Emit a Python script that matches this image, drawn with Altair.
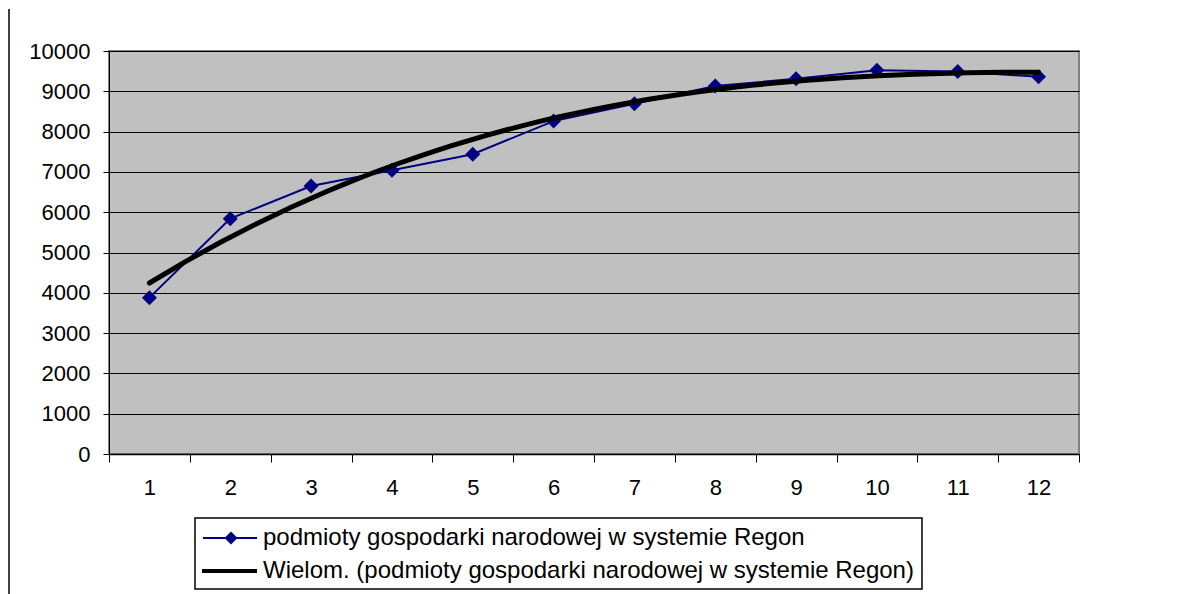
import altair as alt
import pandas as pd

# ---- data ----
months = list(range(1, 13))
values = [3880, 5840, 6650, 7040, 7440, 8260, 8690, 9130, 9310, 9520, 9490, 9360]
series_name = "podmioty gospodarki narodowej w systemie Regon"
trend_name = "Wielom. (podmioty gospodarki narodowej w systemie Regon)"
y_ticks = list(range(0, 10001, 1000))
x_boundaries = [k + 0.5 for k in range(0, 13)]

df = pd.DataFrame({"x": months, "y": values, "series": series_name})

FONT = "Liberation Sans"
W, H = 970, 403
NAVY = "#000080"

x_scale = alt.Scale(domain=[0.5, 12.5], nice=False, zero=False)
y_scale = alt.Scale(domain=[0, 10000], nice=False)

x_axis = alt.Axis(
    values=x_boundaries, title=None, grid=False, tickSize=8, tickColor="black",
    tickWidth=1, domainColor="black", domainWidth=1.5,
    labelExpr="datum.value > 12 ? '' : format(datum.value + 0.5, 'd')",
    labelOffset=W / 24, labelFlush=False, labelOverlap=False,
    labelFont=FONT, labelFontSize=22, labelColor="black", labelPadding=15,
)
y_axis = alt.Axis(
    values=y_ticks, title=None, grid=True, gridColor="black", gridWidth=1,
    gridOpacity=1, tickSize=6, tickColor="black", domainColor="black",
    labelFont=FONT, labelFontSize=22, labelColor="black", labelPadding=13,
    format="d",
)

base = alt.Chart(df)

data_line = base.mark_line(strokeWidth=2, color=NAVY).encode(
    x=alt.X("x:Q", scale=x_scale, axis=x_axis),
    y=alt.Y("y:Q", scale=y_scale, axis=y_axis),
)

points = base.mark_point(
    shape="diamond", filled=True, size=225, color=NAVY, opacity=1
).encode(x="x:Q", y="y:Q")

trend = (
    base.transform_regression("x", "y", method="poly", order=3, extent=[1, 12])
    .mark_line(strokeWidth=5, strokeCap="round", color="black")
    .encode(x="x:Q", y="y:Q")
)

one = alt.Data(values=[{"k": 1}])

border = alt.Chart(one).mark_rule(color="black", strokeWidth=1.5).encode(
    x=alt.value(-100), y=alt.value(-42), y2=alt.value(546)
)

# ---- legend box ----
leg_box = alt.Chart(one).mark_rect(
    fill="white", stroke="black", strokeWidth=1.5
).encode(x=alt.value(86), x2=alt.value(813), y=alt.value(467), y2=alt.value(538))
leg_line1 = alt.Chart(one).mark_rule(color=NAVY, strokeWidth=2).encode(
    x=alt.value(94), x2=alt.value(148), y=alt.value(487)
)
leg_pt1 = alt.Chart(one).mark_point(
    shape="diamond", filled=True, size=169, color=NAVY, opacity=1
).encode(x=alt.value(122), y=alt.value(487))
leg_line2 = alt.Chart(one).mark_rule(color="black", strokeWidth=4).encode(
    x=alt.value(93), x2=alt.value(148), y=alt.value(520)
)
leg_txt1 = alt.Chart(one).mark_text(
    align="left", baseline="middle", font=FONT, fontSize=24, color="black"
).encode(x=alt.value(154), y=alt.value(487), text=alt.value(series_name))
leg_txt2 = alt.Chart(one).mark_text(
    align="left", baseline="middle", font=FONT, fontSize=24, color="black"
).encode(x=alt.value(154), y=alt.value(520), text=alt.value(trend_name))

chart = (
    alt.layer(data_line, points, trend, border,
              leg_box, leg_line1, leg_pt1, leg_line2, leg_txt1, leg_txt2)
    .properties(width=W, height=H, padding=0, background="white")
    .configure_view(fill="#C0C0C0", stroke="#808080", strokeWidth=2)
)

chart.save("out.html", embed_options={"renderer": "svg", "actions": False})
